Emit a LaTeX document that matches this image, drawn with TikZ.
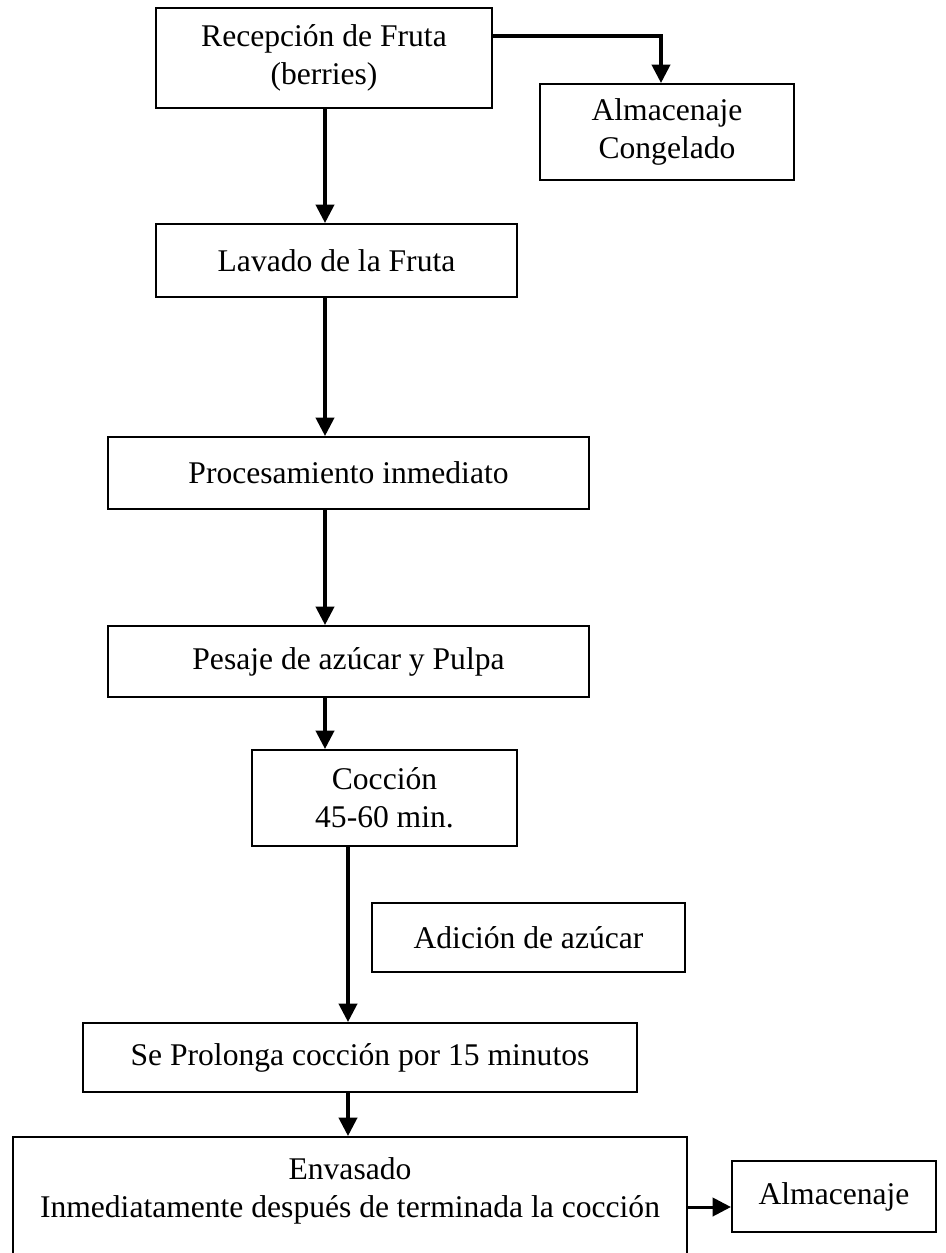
\documentclass[tikz,border=0pt]{standalone}
\usepackage{fontspec}
\setmainfont{Liberation Serif}
\usetikzlibrary{arrows.meta}
\begin{document}
\begin{tikzpicture}[x=0.38pt,y=-0.38pt,
  stepbox/.style={draw=black,line width=0.8pt,rectangle,inner sep=0pt,
    align=center,font=\fontsize{12}{14.5}\selectfont},
  flow/.style={line width=1.15pt,-{Triangle[width=7pt,length=7pt]}}]
\useasboundingbox (0,0) rectangle (946,1253);
% process steps
\node[stepbox,minimum width=336*0.38pt,minimum height=100*0.38pt] (rec) at (324,58) {Recepción de Fruta\\(berries)};
\node[stepbox,minimum width=254*0.38pt,minimum height=96*0.38pt] (alm1) at (667,132) {Almacenaje\\Congelado};
\node[stepbox,minimum width=361*0.38pt,minimum height=73*0.38pt] (lav) at (336.5,260.5) {Lavado de la Fruta};
\node[stepbox,minimum width=481*0.38pt,minimum height=72*0.38pt] (proc) at (348.5,473) {Procesamiento inmediato};
\node[stepbox,minimum width=481*0.38pt,minimum height=71*0.38pt] (pes) at (348.5,661.5) {Pesaje de azúcar y Pulpa};
\node[stepbox,minimum width=265*0.38pt,minimum height=96*0.38pt] (coc) at (384.5,798) {Cocción\\45-60 min.};
\node[stepbox,minimum width=313*0.38pt,minimum height=69*0.38pt] (adi) at (528.5,937.5) {Adición de azúcar};
\node[stepbox,minimum width=554*0.38pt,minimum height=69*0.38pt] (pro) at (360,1057.5) {Se Prolonga cocción por 15 minutos};
\node[stepbox,minimum width=674*0.38pt,minimum height=140*0.38pt] (env) at (350,1207) {Envasado\\Inmediatamente después de terminada la cocción\\\mbox{}};
\node[stepbox,minimum width=204*0.38pt,minimum height=71*0.38pt] (alm2) at (834,1196.5) {Almacenaje};
% guide points for the connector runs
\coordinate (spine) at (325,0);
\coordinate (side) at (661,36);
\coordinate (spine2) at (348,0);
% connectors
\draw[flow] (rec.east |- side) -| (alm1.north -| side);
\draw[flow] (spine |- rec.south) -- (spine |- lav.north);
\draw[flow] (spine |- lav.south) -- (spine |- proc.north);
\draw[flow] (spine |- proc.south) -- (spine |- pes.north);
\draw[flow] (spine |- pes.south) -- (spine |- coc.north);
\draw[flow] (spine2 |- coc.south) -- (spine2 |- pro.north);
\draw[flow] (spine2 |- pro.south) -- (spine2 |- env.north);
\draw[flow] (env.east) -- (env.east -| alm2.west);
\end{tikzpicture}
\end{document}
